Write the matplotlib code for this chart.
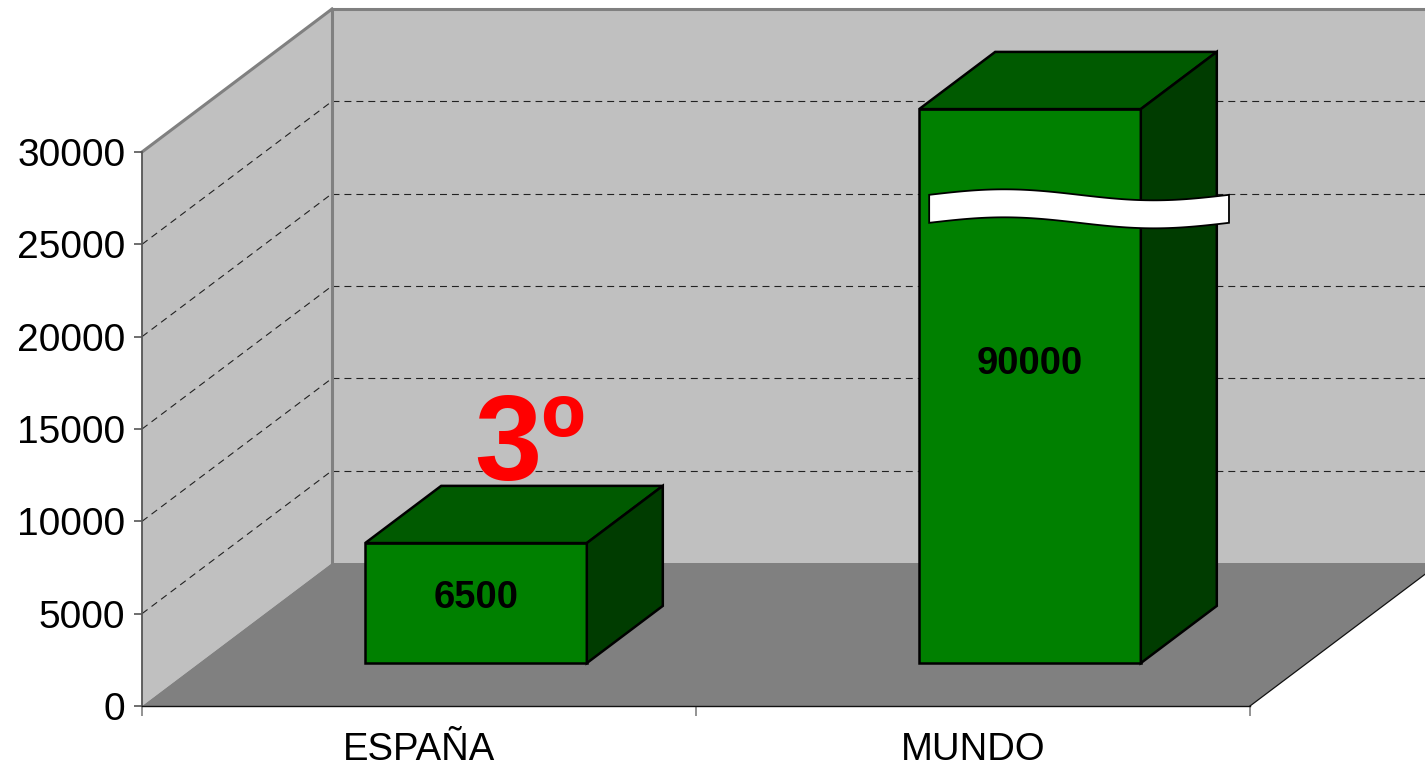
"""
3D-style column chart: ESPAÑA vs MUNDO, with a broken (clipped) bar.
"""

import matplotlib.pyplot as plt
import numpy as np
from matplotlib.patches import Polygon

categories = ["ESPAÑA", "MUNDO"]
values = [6500, 90000]
value_labels = ["6500", "90000"]
y_ticks = [0, 5000, 10000, 15000, 20000, 25000, 30000]
rank_label = "3º"

Y_MAX = 30000
DX = 190 / 554          # depth shift along x, in category units
DY = 143 / 554 * Y_MAX  # depth shift along y, in value units
BAR_W = 0.4
BAR_D0, BAR_D1 = 0.3, 0.7

plt.rcParams["font.family"] = ["Liberation Sans", "DejaVu Sans"]
plt.rcParams["lines.scale_dashes"] = False


def proj(x, y, d):
    """front-plane coords of a point at depth d (0 = front, 1 = back wall)"""
    return (x + d * DX, y + d * DY)


def face(ax, pts, color, z, ec="none", lw=0.0):
    ax.add_patch(Polygon(pts, closed=True, facecolor=color, edgecolor=ec,
                         linewidth=lw, joinstyle="miter", zorder=z,
                         clip_on=False))


def line(ax, p, q, **kw):
    ax.plot([p[0], q[0]], [p[1], q[1]], clip_on=False, **kw)


fig = plt.figure(figsize=(14.25, 7.67), dpi=100)
ax = fig.add_axes([142 / 1425, 61 / 767, 1108 / 1425, 554 / 767])
ax.set_xlim(0, len(categories))
ax.set_ylim(0, Y_MAX)
ax.patch.set_visible(False)
n = len(categories)

# walls and floor
face(ax, [proj(0, 0, 0), proj(0, 0, 1), proj(0, Y_MAX, 1), proj(0, Y_MAX, 0)],
     "#c0c0c0", 0)
face(ax, [proj(0, 0, 1), proj(n, 0, 1), proj(n, Y_MAX, 1), proj(0, Y_MAX, 1)],
     "#c0c0c0", 0)
face(ax, [proj(0, 0, 0), proj(n, 0, 0), proj(n, 0, 1), proj(0, 0, 1)],
     "#808080", 0.5)

# gridlines on side wall and back wall
for v in y_ticks[1:-1]:
    kw = dict(color="#222222", lw=0.8, dashes=(5, 3.6), zorder=1)
    line(ax, proj(0, v, 0), proj(0, v, 1), **kw)
    line(ax, proj(0, v, 1), proj(n, v, 1), **kw)

# wall edges
edge = dict(color="#808080", lw=2.2, zorder=1.5, solid_capstyle="projecting")
line(ax, proj(0, Y_MAX, 0), proj(0, Y_MAX, 1), **edge)
line(ax, proj(0, Y_MAX, 1), proj(n + 1, Y_MAX, 1), **edge)
line(ax, proj(0, 0, 1), proj(0, Y_MAX, 1), **edge)
line(ax, proj(n, 0, 0), proj(n, 0, 1), color="#111111", lw=0.9, zorder=1.5)

# bars
for i, v in enumerate(values):
    h = min(v, Y_MAX)
    x0 = i + (1 - BAR_W) / 2
    x1 = x0 + BAR_W
    bar = dict(ec="black", lw=1.8, z=3)
    face(ax, [proj(x0, 0, BAR_D0), proj(x1, 0, BAR_D0),
              proj(x1, h, BAR_D0), proj(x0, h, BAR_D0)], "#008000", **bar)
    face(ax, [proj(x0, h, BAR_D0), proj(x1, h, BAR_D0),
              proj(x1, h, BAR_D1), proj(x0, h, BAR_D1)], "#005a00", **bar)
    face(ax, [proj(x1, 0, BAR_D0), proj(x1, 0, BAR_D1),
              proj(x1, h, BAR_D1), proj(x1, h, BAR_D0)], "#003c00", **bar)
    lx, ly = proj(i + 0.5, 0.54 * h, BAR_D0)
    ax.text(lx, ly, value_labels[i], ha="center", va="center", fontsize=27.5,
            fontweight="bold", color="black", zorder=5)

    if v > Y_MAX:
        # wavy break mark across the clipped bar
        bx0 = proj(x0, 0, BAR_D0)[0] + 0.018
        bx1 = proj(x1, 0, BAR_D1)[0] + 0.022
        c = proj(0, 0.82 * Y_MAX, BAR_D0)[1]
        t = np.linspace(0, 1, 80)
        xs = bx0 + (bx1 - bx0) * t
        top = c + 758 + 298 * np.sin(2 * np.pi * t)
        bot = top - 1516
        pts = list(zip(xs, top)) + list(zip(xs[::-1], bot[::-1]))
        face(ax, pts, "white", 4, ec="black", lw=1.3)

# rank annotation above the ESPAÑA bar
ax.text(0.70, 12240, rank_label, ha="center", va="baseline", fontsize=87,
        fontweight="bold", color="#ff0000", zorder=5)

# axes
for s in ["top", "right"]:
    ax.spines[s].set_visible(False)
ax.spines["left"].set_color("#555555")
ax.spines["left"].set_linewidth(1.3)
ax.spines["bottom"].set_color("#111111")
ax.spines["bottom"].set_linewidth(1.0)
ax.spines["left"].set_zorder(2)
ax.spines["bottom"].set_zorder(2)

ax.set_yticks(y_ticks)
ax.tick_params(axis="y", direction="out", length=6, width=1.2,
               color="#555555", labelsize=28, pad=6)
ax.set_xticks(range(n + 1))
ax.set_xticklabels([])
ax.tick_params(axis="x", direction="out", length=7, width=1.2,
               color="#808080")
for i, name in enumerate(categories):
    ax.text(i + 0.5, -2950, name, ha="center", va="baseline",
            fontsize=27.5, color="black")

fig.savefig("out.png", dpi=100)
